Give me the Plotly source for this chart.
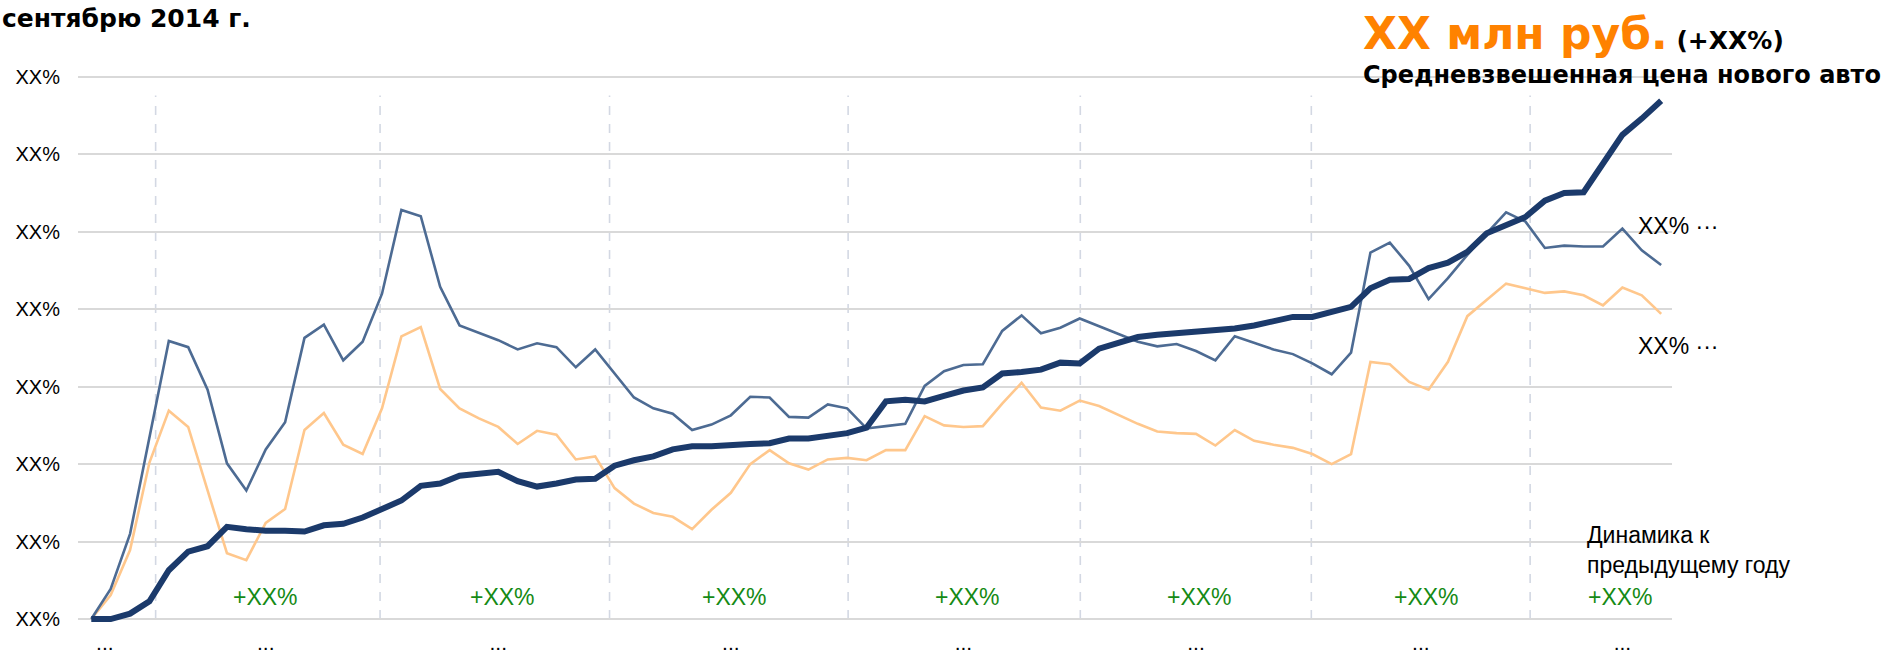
import plotly.graph_objects as go

# ---------------- data ----------------
months = list(range(82))  # monthly points, Sep 2014 = 0

avg_price = [0, 0, 0.7, 2.3, 6.3, 8.7, 9.4, 11.9, 11.6, 11.4,
             11.4, 11.3, 12.1, 12.3, 13.1, 14.1, 15.3, 17.2, 17.5, 18.5,
             18.8, 19.0, 17.8, 17.1, 17.5, 18.0, 18.1, 19.8, 20.5, 21.0,
             21.9, 22.3, 22.3, 22.5, 22.6, 22.7, 23.3, 23.3, 23.7, 24.0,
             24.7, 28.1, 28.3, 28.1, 28.8, 29.5, 29.9, 31.7, 31.9, 32.2,
             33.1, 33.0, 34.9, 35.6, 36.4, 36.7, 36.9, 37.0, 37.2, 37.5,
             37.9, 38.4, 39.0, 39.0, 39.6, 40.3, 42.7, 43.8, 43.9, 45.3,
             46.0, 47.4, 49.8, 50.9, 51.9, 54.0, 55.0, 55.1, 58.8, 62.5,
             64.6, 66.9]

series_b = [0, 3.9, 11.0, 23.4, 35.9, 35.1, 29.6, 20.1, 16.6, 21.9,
            25.4, 36.3, 38.0, 33.4, 35.8, 42.0, 52.8, 52.0, 42.9, 37.9,
            36.9, 36.0, 34.8, 35.6, 35.1, 32.5, 34.8, 31.7, 28.6, 27.2,
            26.5, 24.4, 25.1, 26.3, 28.7, 28.6, 26.1, 26.0, 27.7, 27.2,
            24.6, 24.9, 25.2, 30.1, 32.0, 32.8, 32.9, 37.2, 39.2, 36.9,
            37.6, 38.8, 37.8, 36.8, 35.8, 35.2, 35.5, 34.6, 33.4, 36.5,
            35.6, 34.8, 34.2, 33.0, 31.6, 34.4, 47.3, 48.6, 45.6, 41.3,
            44.0, 47.0, 49.8, 52.5, 51.3, 47.9, 48.2, 48.1, 48.1, 50.4,
            47.6, 45.7]

series_c = [0, 3.1, 8.9, 20.2, 26.9, 24.8, 16.6, 8.5, 7.6, 12.4,
            14.2, 24.4, 26.6, 22.5, 21.3, 27.2, 36.5, 37.7, 29.7, 27.2,
            25.9, 24.8, 22.6, 24.3, 23.8, 20.6, 21.0, 16.9, 14.9, 13.7,
            13.2, 11.6, 14.1, 16.3, 20.0, 21.8, 20.1, 19.3, 20.6, 20.8,
            20.5, 21.8, 21.8, 26.2, 25.0, 24.8, 24.9, 27.8, 30.5, 27.3,
            26.9, 28.2, 27.5, 26.3, 25.2, 24.2, 24.0, 23.9, 22.4, 24.4,
            23.0, 22.5, 22.1, 21.3, 20.0, 21.3, 33.2, 32.9, 30.6, 29.6,
            33.2, 39.1, 41.2, 43.3, 42.7, 42.1, 42.3, 41.8, 40.5, 42.8,
            41.8, 39.4]

y_ticks = [0, 10, 20, 30, 40, 50, 60, 70]
y_tick_labels = ["XX%"] * 8

x_tick_pos = [0.7, 9, 21, 33, 45, 57, 68.6, 79]
x_tick_labels = ["..."] * 8

year_breaks = [3.32, 14.9, 26.74, 39.05, 51.03, 62.95, 74.24]
year_label_pos = [9, 21.2, 33.2, 45.2, 57.2, 68.9, 78.9]
year_labels = ["+XX%"] * 7

title_left = "сентябрю 2014 г."
big_value = "XX млн руб."
big_change = "(+XX%)"
big_caption = "Средневзвешенная цена нового авто"
end_label_b = "XX% \u00b7\u00b7\u00b7"
end_label_c = "XX% \u00b7\u00b7\u00b7"
dyn_label = "Динамика к<br>предыдущему году"

# ---------------- layout geometry ----------------
W, H = 1886, 654
ML, MR, MT, MB = 78, 214, 74, 30
PW, PH = W - ML - MR, H - MT - MB


def px(x):
    return (x - ML) / PW


def py(y):
    return (H - MB - y) / PH


REG = "Liberation Sans, Arial, sans-serif"
BOLD = "DejaVu Sans, Arial, sans-serif"

fig = go.Figure()
fig.add_trace(go.Scatter(x=months, y=series_c, mode="lines",
                         line=dict(color="#ffc78c", width=2.6), hoverinfo="skip"))
fig.add_trace(go.Scatter(x=months, y=series_b, mode="lines",
                         line=dict(color="#4d6b93", width=2.6), hoverinfo="skip"))
fig.add_trace(go.Scatter(x=months, y=avg_price, mode="lines",
                         line=dict(color="#1b3a6b", width=6), hoverinfo="skip"))

shapes = []
for xb in year_breaks:
    shapes.append(dict(type="line", xref="x", yref="y", x0=xb, x1=xb, y0=0, y1=67.6,
                       line=dict(color="#d3d8e3", width=1.6, dash="dash"), layer="below"))

ann = []
for xv, t in zip(year_label_pos, year_labels):
    ann.append(dict(x=xv, y=2.8, xref="x", yref="y", text=t, showarrow=False,
                    font=dict(family=REG, size=23, color="#158a15"),
                    xanchor="center", yanchor="middle"))

ann.append(dict(x=px(0), y=py(18), xref="paper", yref="paper", text="<b>" + title_left + "</b>",
                showarrow=False, font=dict(family=BOLD, size=25, color="#000000"),
                xanchor="left", yanchor="middle"))
ann.append(dict(x=px(1361), y=py(33), xref="paper", yref="paper",
                text="<b><span style='color:#ff8200;font-size:44px'>" + big_value +
                     "</span> <span style='font-size:25px'>" + big_change + "</span></b>",
                showarrow=False, font=dict(family=BOLD, size=25, color="#000000"),
                xanchor="left", yanchor="middle"))
ann.append(dict(x=px(1361), y=py(75), xref="paper", yref="paper", text="<b>" + big_caption + "</b>",
                showarrow=False, font=dict(family=BOLD, size=24, color="#000000"),
                xanchor="left", yanchor="middle"))
ann.append(dict(x=px(1636), y=py(226), xref="paper", yref="paper", text=end_label_b,
                showarrow=False, font=dict(family=REG, size=23, color="#000000"),
                xanchor="left", yanchor="middle"))
ann.append(dict(x=px(1636), y=py(346), xref="paper", yref="paper", text=end_label_c,
                showarrow=False, font=dict(family=REG, size=23, color="#000000"),
                xanchor="left", yanchor="middle"))
ann.append(dict(x=px(1585), y=py(550), xref="paper", yref="paper", text=dyn_label,
                showarrow=False, font=dict(family=REG, size=23, color="#000000"),
                xanchor="left", yanchor="middle", align="left"))

fig.update_layout(
    width=W, height=H,
    margin=dict(l=ML, r=MR, t=MT, b=MB, pad=0, autoexpand=False),
    paper_bgcolor="white", plot_bgcolor="white",
    showlegend=False,
    shapes=shapes, annotations=ann,
    font=dict(family=REG, size=21, color="#000000"),
)
fig.update_xaxes(range=[-0.686, 81.56], showgrid=False, zeroline=False, showline=False,
                 automargin=False,
                 tickmode="array", tickvals=x_tick_pos, ticktext=x_tick_labels,
                 ticks="", tickfont=dict(family=REG, size=21, color="#000000"),
                 ticklabelstandoff=4)
fig.update_yaxes(range=[-0.64, 70.36], showgrid=True, gridcolor="#d9d9d9", gridwidth=2,
                 zeroline=False, showline=False, automargin=False,
                 tickmode="array", tickvals=y_ticks, ticktext=y_tick_labels,
                 ticks="", tickfont=dict(family=REG, size=20, color="#000000"),
                 ticklabelstandoff=17)

fig.write_html("out.html", config={"displayModeBar": False},
               post_script="document.body.style.margin='0';document.body.style.overflow='hidden';")
